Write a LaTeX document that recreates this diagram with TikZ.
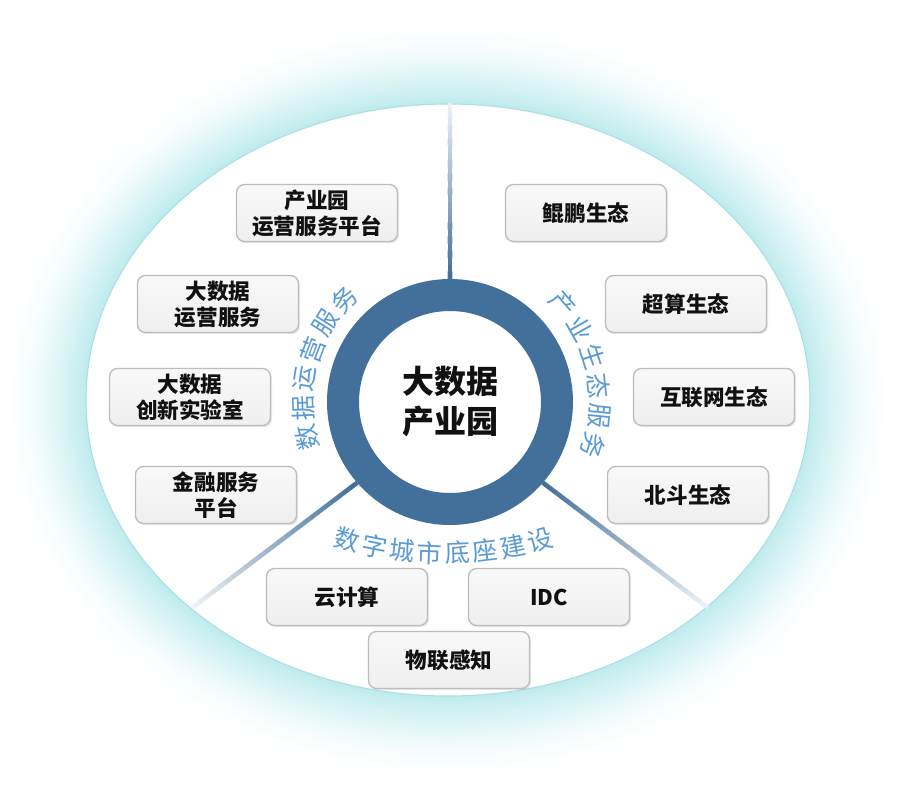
\documentclass[tikz,border=0pt]{standalone}
\usepackage{fontspec}
\setmainfont{Noto Sans CJK SC}
\usepackage{tikz}
\usetikzlibrary{calc,shadows}
\definecolor{ringblue}{HTML}{43709A}
\definecolor{spokepale}{HTML}{F2F5F8}
\definecolor{labelblue}{HTML}{5B9BD5}
\definecolor{glowcyan}{HTML}{BDEBEE}
\definecolor{rimcyan}{HTML}{A9DEE3}
\definecolor{boxfill}{HTML}{EFEFEF}
\definecolor{boxline}{HTML}{BDBDBD}
\definecolor{ink}{HTML}{111111}
\tikzset{
    every picture/.style={line join=round},
    hubring/.style={circle,draw=ringblue,line width=24pt,minimum size=160.5pt,
      inner sep=0pt,outer sep=12pt,text=ink,align=center,
      font=\fontsize{24}{30}\selectfont\bfseries},
    itembox/.style={draw=boxline,line width=1pt,rounded corners=6pt,
      top color=boxfill!40!white,bottom color=boxfill,
      minimum width=120.75pt,minimum height=42.75pt,inner sep=2pt,
      text=ink,align=center,font=\fontsize{16.2}{19.5}\selectfont\bfseries,
      drop shadow={shadow xshift=1.2pt,shadow yshift=-1.2pt,opacity=0.18}},
    spoke/.style={line width=3.4pt,line cap=butt},
    arclabel/.style={inner sep=0pt,text=labelblue,font=\fontsize{19}{19}\selectfont}
}
\begin{document}
\begin{tikzpicture}[x=0.75pt,y=-0.75pt]
  \useasboundingbox (0,0) rectangle (900,796);
  \fill[white] (0,0) rectangle (900,796);
  % cyan glow round the field
  \foreach \k in {40,39,...,1}{
    \pgfmathsetmacro\pct{100*(1-\k/41)^1.6}
    \fill[glowcyan!\pct!white] (448,400) ellipse [x radius={362+2*\k},y radius={296+2*\k}];
  }
  \fill[white,draw=rimcyan,line width=0.8pt] (448,400) ellipse [x radius=362,y radius=296];

  \node[hubring] (hub) at (450,402) {大数据\\产业园};

  % spokes, dark at the ring and pale at the rim
  \coordinate (topend) at (450,104);
  \coordinate (llend) at (193,607);
  \coordinate (lrend) at (707,607);
  \foreach \a/\b in {hub.north/topend,hub.221/llend,hub.319/lrend}{
    \foreach \t in {0,...,24}{
      \pgfmathsetmacro\pa{\t/25}
      \pgfmathsetmacro\pb{(\t+1.1)/25}
      \pgfmathsetmacro\pc{100-\t*4}
      \draw[spoke,draw=ringblue!\pc!spokepale] ($(\a)!\pa!(\b)$) -- ($(\a)!\pb!(\b)$);
    }
  }

  % curved labels
  \foreach \ch [count=\i from 0] in {数,据,运,营,服,务}{
    \pgfmathsetmacro\ang{194-11.6*\i}
    \node[arclabel,rotate=\ang-90] (opsL\i) at ({450+147*cos(\ang)},{402-147*sin(\ang)}) {\ch};
  }
  \foreach \ch [count=\i from 0] in {产,业,生,态,服,务}{
    \pgfmathsetmacro\ang{41-11.6*\i}
    \node[arclabel,rotate=\ang-90] (ecoL\i) at ({450+150*cos(\ang)},{402-150*sin(\ang)}) {\ch};
  }
  \foreach \ch [count=\i from 0] in {数,字,城,市,底,座,建,设}{
    \pgfmathsetmacro\ang{254.6+4.43*\i}
    \node[arclabel,rotate=\ang+90] (cityL\i) at ({443+361*cos(\ang)},{192-361*sin(\ang)}) {\ch};
  }

  % left group
  \node[itembox] (parkops) at (317,213) {产业园\\运营服务平台};
  \node[itembox] (bdops) at (218,304) {大数据\\运营服务};
  \node[itembox] (bdlab) at (190,397) {大数据\\创新实验室};
  \node[itembox] (finance) at (216,495) {金融服务\\平台};
  % right group
  \node[itembox] (kunpeng) at (586,213) {鲲鹏生态};
  \node[itembox] (hpc) at (686,304) {超算生态};
  \node[itembox] (inet) at (714,397) {互联网生态};
  \node[itembox] (beidou) at (688,495) {北斗生态};
  % bottom group
  \node[itembox] (cloud) at (347,597) {云计算};
  \node[itembox] (idc) at (549,597) {IDC};
  \node[itembox] (iot) at (449,660) {物联感知};
\end{tikzpicture}
\end{document}
